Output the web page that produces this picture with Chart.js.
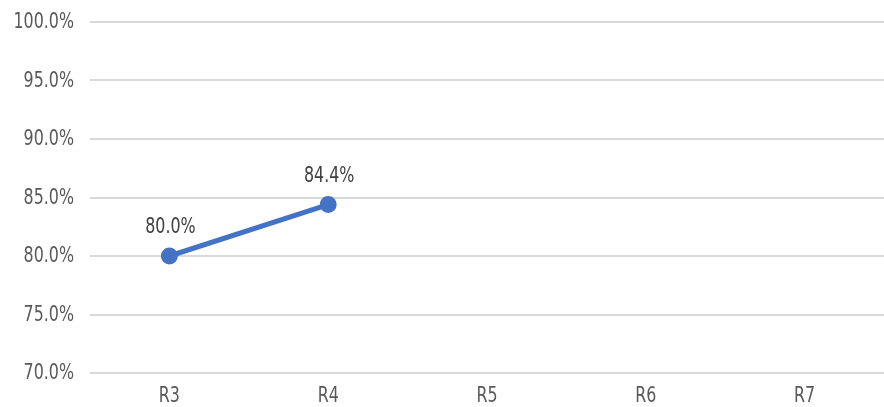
<!DOCTYPE html>
<html>
<head>
<meta charset="utf-8">
<script src="https://cdn.jsdelivr.net/npm/chart.js@4/dist/chart.umd.min.js"></script>
<style>
  html, body { margin: 0; padding: 0; background: #ffffff; overflow: hidden; }
  #wrap { width: 884px; height: 407px; position: relative; }
  #chart { display: block; }
</style>
</head>
<body>
<div id="wrap"><canvas id="chart"></canvas></div>
<script>
// Rounds and achievement rate (%) per round
const categories = ['R3', 'R4', 'R5', 'R6', 'R7'];
const rateValues = [80.0, 84.4, null, null, null];
const yTicks = [70, 75, 80, 85, 90, 95, 100];

const FONT = "'DejaVu Sans Condensed', 'DejaVu Sans', sans-serif";
const SQUEEZE = 0.84; // narrow the text horizontally

function narrowText(ctx, text, x, y, align) {
  ctx.save();
  ctx.translate(x, y);
  ctx.scale(SQUEEZE, 1);
  ctx.textAlign = align;
  ctx.fillText(text, 0, 0);
  ctx.restore();
}

// Axis labels, drawn with a condensed face
const axisLabels = {
  id: 'axisLabels',
  afterDraw(chart) {
    const ctx = chart.ctx;
    const xs = chart.scales.x;
    const ys = chart.scales.y;
    ctx.save();
    ctx.font = "21px " + FONT;
    ctx.fillStyle = '#595959';
    ctx.textBaseline = 'middle';
    yTicks.forEach(v => {
      narrowText(ctx, v.toFixed(1) + '%', 74, ys.getPixelForValue(v) + 1, 'right');
    });
    categories.forEach((c, i) => {
      narrowText(ctx, c, xs.getPixelForValue(i), 397, 'center');
    });
    ctx.restore();
  }
};

// Writes each point's value above it
const valueLabels = {
  id: 'valueLabels',
  afterDatasetsDraw(chart) {
    const ctx = chart.ctx;
    const meta = chart.getDatasetMeta(0);
    ctx.save();
    ctx.font = "21px " + FONT;
    ctx.fillStyle = '#404040';
    ctx.textBaseline = 'alphabetic';
    meta.data.forEach((pt, i) => {
      const v = rateValues[i];
      if (v === null || v === undefined) return;
      narrowText(ctx, v.toFixed(1) + '%', pt.x + 1, pt.y - 23, 'center');
    });
    ctx.restore();
  }
};

new Chart(document.getElementById('chart'), {
  type: 'line',
  data: {
    labels: categories,
    datasets: [{
      data: rateValues,
      borderColor: '#4472C4',
      backgroundColor: '#4472C4',
      borderWidth: 5,
      pointRadius: 6,
      pointHoverRadius: 6,
      pointBackgroundColor: '#4472C4',
      pointBorderColor: '#4472C4',
      tension: 0,
      spanGaps: false
    }]
  },
  options: {
    responsive: true,
    maintainAspectRatio: false,
    animation: false,
    layout: { autoPadding: false, padding: { top: 22, right: 0, bottom: 0, left: 0 } },
    plugins: {
      legend: { display: false },
      tooltip: { enabled: false }
    },
    scales: {
      x: {
        offset: true,
        grid: { display: false, drawTicks: false },
        border: { display: false },
        ticks: { display: false },
        afterFit(scale) {
          scale.height = 34;
        }
      },
      y: {
        min: 70,
        max: 100,
        afterBuildTicks(scale) { scale.ticks = yTicks.map(v => ({ value: v })); },
        grid: { color: '#d9d9d9', lineWidth: 2, drawTicks: false },
        border: { display: false },
        ticks: { display: false },
        afterFit(scale) {
          scale.width = 90;
        }
      }
    }
  },
  plugins: [valueLabels, axisLabels]
});
</script>
</body>
</html>
